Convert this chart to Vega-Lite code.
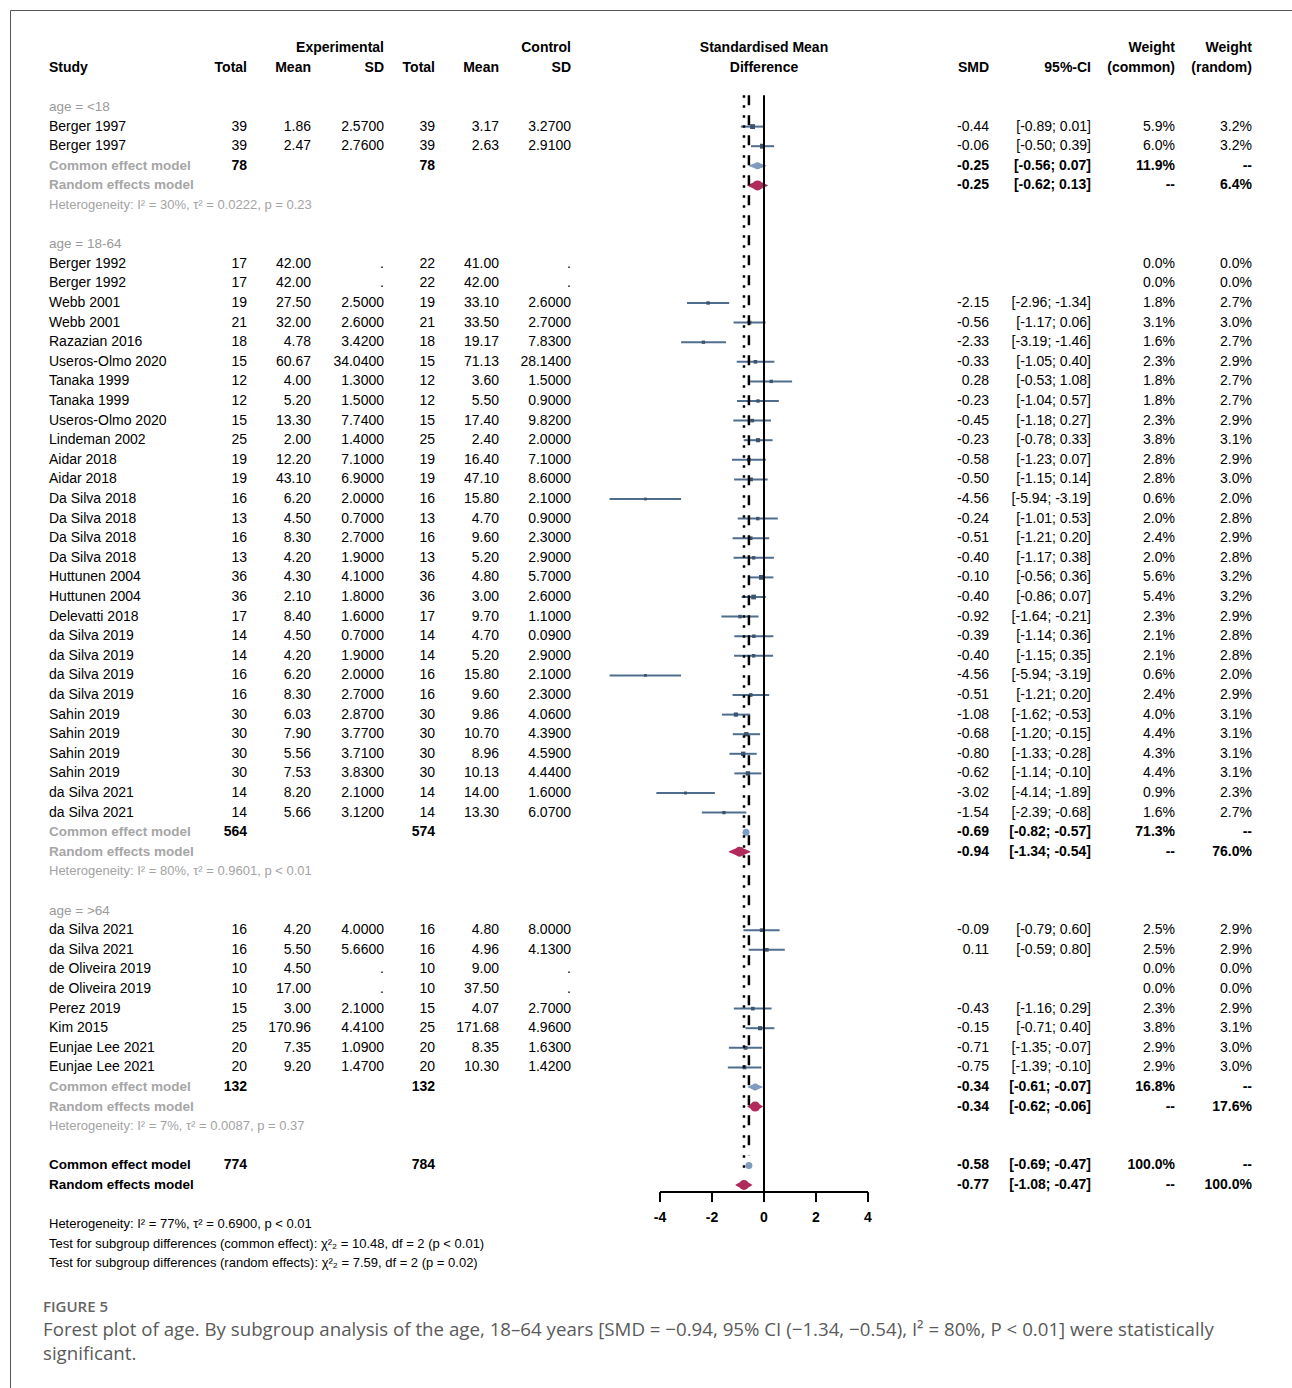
{
  "$schema": "https://vega.github.io/schema/vega-lite/v6.json",
  "width": 1292,
  "height": 1388,
  "autosize": {"type": "fit", "contains": "padding"},
  "padding": {"left": 10, "top": 10, "right": 0, "bottom": 0},
  "background": "white",
  "config": {
    "view": {"stroke": "#555", "strokeWidth": 1},
    "axis": {"disable": true},
    "legend": {"disable": true},
    "text": {"font": "Liberation Sans", "fontSize": 14, "baseline": "middle", "align": "right", "color": "#000"}
  },
  "data": {"values": [
      {"row": -3, "kind": "header", "e_sd": "Experimental", "c_sd": "Control", "plot": "Standardised Mean", "wc": "Weight", "wr": "Weight"},
      {"row": -2, "kind": "header", "label": "Study", "e_n": "Total", "e_mean": "Mean", "e_sd": "SD", "c_n": "Total", "c_mean": "Mean", "c_sd": "SD", "plot": "Difference", "smd_t": "SMD", "ci_t": "95%-CI", "wc": "(common)", "wr": "(random)"},
      {"row": 0, "kind": "group", "label": "age = <18"},
      {"row": 1, "kind": "study", "label": "Berger 1997", "e_n": "39", "e_mean": "1.86", "e_sd": "2.5700", "c_n": "39", "c_mean": "3.17", "c_sd": "3.2700", "smd_t": "-0.44", "ci_t": "[-0.89; 0.01]", "wc": "5.9%", "wr": "3.2%", "est": -0.44, "lo": -0.89, "hi": 0.01, "w": 5.9},
      {"row": 2, "kind": "study", "label": "Berger 1997", "e_n": "39", "e_mean": "2.47", "e_sd": "2.7600", "c_n": "39", "c_mean": "2.63", "c_sd": "2.9100", "smd_t": "-0.06", "ci_t": "[-0.50; 0.39]", "wc": "6.0%", "wr": "3.2%", "est": -0.06, "lo": -0.50, "hi": 0.39, "w": 6.0},
      {"row": 3, "kind": "common", "label": "Common effect model", "e_n": "78", "c_n": "78", "smd_t": "-0.25", "ci_t": "[-0.56; 0.07]", "wc": "11.9%", "wr": "--", "est": -0.25, "lo": -0.56, "hi": 0.07},
      {"row": 4, "kind": "random", "label": "Random effects model", "smd_t": "-0.25", "ci_t": "[-0.62; 0.13]", "wc": "--", "wr": "6.4%", "est": -0.25, "lo": -0.62, "hi": 0.13},
      {"row": 5, "kind": "het", "label": "Heterogeneity: I² = 30%, τ² = 0.0222, p = 0.23"},
      {"row": 7, "kind": "group", "label": "age = 18-64"},
      {"row": 8, "kind": "study", "label": "Berger 1992", "e_n": "17", "e_mean": "42.00", "e_sd": ".", "c_n": "22", "c_mean": "41.00", "c_sd": ".", "wc": "0.0%", "wr": "0.0%"},
      {"row": 9, "kind": "study", "label": "Berger 1992", "e_n": "17", "e_mean": "42.00", "e_sd": ".", "c_n": "22", "c_mean": "42.00", "c_sd": ".", "wc": "0.0%", "wr": "0.0%"},
      {"row": 10, "kind": "study", "label": "Webb 2001", "e_n": "19", "e_mean": "27.50", "e_sd": "2.5000", "c_n": "19", "c_mean": "33.10", "c_sd": "2.6000", "smd_t": "-2.15", "ci_t": "[-2.96; -1.34]", "wc": "1.8%", "wr": "2.7%", "est": -2.15, "lo": -2.96, "hi": -1.34, "w": 1.8},
      {"row": 11, "kind": "study", "label": "Webb 2001", "e_n": "21", "e_mean": "32.00", "e_sd": "2.6000", "c_n": "21", "c_mean": "33.50", "c_sd": "2.7000", "smd_t": "-0.56", "ci_t": "[-1.17; 0.06]", "wc": "3.1%", "wr": "3.0%", "est": -0.56, "lo": -1.17, "hi": 0.06, "w": 3.1},
      {"row": 12, "kind": "study", "label": "Razazian 2016", "e_n": "18", "e_mean": "4.78", "e_sd": "3.4200", "c_n": "18", "c_mean": "19.17", "c_sd": "7.8300", "smd_t": "-2.33", "ci_t": "[-3.19; -1.46]", "wc": "1.6%", "wr": "2.7%", "est": -2.33, "lo": -3.19, "hi": -1.46, "w": 1.6},
      {"row": 13, "kind": "study", "label": "Useros-Olmo 2020", "e_n": "15", "e_mean": "60.67", "e_sd": "34.0400", "c_n": "15", "c_mean": "71.13", "c_sd": "28.1400", "smd_t": "-0.33", "ci_t": "[-1.05; 0.40]", "wc": "2.3%", "wr": "2.9%", "est": -0.33, "lo": -1.05, "hi": 0.40, "w": 2.3},
      {"row": 14, "kind": "study", "label": "Tanaka 1999", "e_n": "12", "e_mean": "4.00", "e_sd": "1.3000", "c_n": "12", "c_mean": "3.60", "c_sd": "1.5000", "smd_t": "0.28", "ci_t": "[-0.53; 1.08]", "wc": "1.8%", "wr": "2.7%", "est": 0.28, "lo": -0.53, "hi": 1.08, "w": 1.8},
      {"row": 15, "kind": "study", "label": "Tanaka 1999", "e_n": "12", "e_mean": "5.20", "e_sd": "1.5000", "c_n": "12", "c_mean": "5.50", "c_sd": "0.9000", "smd_t": "-0.23", "ci_t": "[-1.04; 0.57]", "wc": "1.8%", "wr": "2.7%", "est": -0.23, "lo": -1.04, "hi": 0.57, "w": 1.8},
      {"row": 16, "kind": "study", "label": "Useros-Olmo 2020", "e_n": "15", "e_mean": "13.30", "e_sd": "7.7400", "c_n": "15", "c_mean": "17.40", "c_sd": "9.8200", "smd_t": "-0.45", "ci_t": "[-1.18; 0.27]", "wc": "2.3%", "wr": "2.9%", "est": -0.45, "lo": -1.18, "hi": 0.27, "w": 2.3},
      {"row": 17, "kind": "study", "label": "Lindeman 2002", "e_n": "25", "e_mean": "2.00", "e_sd": "1.4000", "c_n": "25", "c_mean": "2.40", "c_sd": "2.0000", "smd_t": "-0.23", "ci_t": "[-0.78; 0.33]", "wc": "3.8%", "wr": "3.1%", "est": -0.23, "lo": -0.78, "hi": 0.33, "w": 3.8},
      {"row": 18, "kind": "study", "label": "Aidar 2018", "e_n": "19", "e_mean": "12.20", "e_sd": "7.1000", "c_n": "19", "c_mean": "16.40", "c_sd": "7.1000", "smd_t": "-0.58", "ci_t": "[-1.23; 0.07]", "wc": "2.8%", "wr": "2.9%", "est": -0.58, "lo": -1.23, "hi": 0.07, "w": 2.8},
      {"row": 19, "kind": "study", "label": "Aidar 2018", "e_n": "19", "e_mean": "43.10", "e_sd": "6.9000", "c_n": "19", "c_mean": "47.10", "c_sd": "8.6000", "smd_t": "-0.50", "ci_t": "[-1.15; 0.14]", "wc": "2.8%", "wr": "3.0%", "est": -0.50, "lo": -1.15, "hi": 0.14, "w": 2.8},
      {"row": 20, "kind": "study", "label": "Da Silva 2018", "e_n": "16", "e_mean": "6.20", "e_sd": "2.0000", "c_n": "16", "c_mean": "15.80", "c_sd": "2.1000", "smd_t": "-4.56", "ci_t": "[-5.94; -3.19]", "wc": "0.6%", "wr": "2.0%", "est": -4.56, "lo": -5.94, "hi": -3.19, "w": 0.6},
      {"row": 21, "kind": "study", "label": "Da Silva 2018", "e_n": "13", "e_mean": "4.50", "e_sd": "0.7000", "c_n": "13", "c_mean": "4.70", "c_sd": "0.9000", "smd_t": "-0.24", "ci_t": "[-1.01; 0.53]", "wc": "2.0%", "wr": "2.8%", "est": -0.24, "lo": -1.01, "hi": 0.53, "w": 2.0},
      {"row": 22, "kind": "study", "label": "Da Silva 2018", "e_n": "16", "e_mean": "8.30", "e_sd": "2.7000", "c_n": "16", "c_mean": "9.60", "c_sd": "2.3000", "smd_t": "-0.51", "ci_t": "[-1.21; 0.20]", "wc": "2.4%", "wr": "2.9%", "est": -0.51, "lo": -1.21, "hi": 0.20, "w": 2.4},
      {"row": 23, "kind": "study", "label": "Da Silva 2018", "e_n": "13", "e_mean": "4.20", "e_sd": "1.9000", "c_n": "13", "c_mean": "5.20", "c_sd": "2.9000", "smd_t": "-0.40", "ci_t": "[-1.17; 0.38]", "wc": "2.0%", "wr": "2.8%", "est": -0.40, "lo": -1.17, "hi": 0.38, "w": 2.0},
      {"row": 24, "kind": "study", "label": "Huttunen 2004", "e_n": "36", "e_mean": "4.30", "e_sd": "4.1000", "c_n": "36", "c_mean": "4.80", "c_sd": "5.7000", "smd_t": "-0.10", "ci_t": "[-0.56; 0.36]", "wc": "5.6%", "wr": "3.2%", "est": -0.10, "lo": -0.56, "hi": 0.36, "w": 5.6},
      {"row": 25, "kind": "study", "label": "Huttunen 2004", "e_n": "36", "e_mean": "2.10", "e_sd": "1.8000", "c_n": "36", "c_mean": "3.00", "c_sd": "2.6000", "smd_t": "-0.40", "ci_t": "[-0.86; 0.07]", "wc": "5.4%", "wr": "3.2%", "est": -0.40, "lo": -0.86, "hi": 0.07, "w": 5.4},
      {"row": 26, "kind": "study", "label": "Delevatti 2018", "e_n": "17", "e_mean": "8.40", "e_sd": "1.6000", "c_n": "17", "c_mean": "9.70", "c_sd": "1.1000", "smd_t": "-0.92", "ci_t": "[-1.64; -0.21]", "wc": "2.3%", "wr": "2.9%", "est": -0.92, "lo": -1.64, "hi": -0.21, "w": 2.3},
      {"row": 27, "kind": "study", "label": "da Silva 2019", "e_n": "14", "e_mean": "4.50", "e_sd": "0.7000", "c_n": "14", "c_mean": "4.70", "c_sd": "0.0900", "smd_t": "-0.39", "ci_t": "[-1.14; 0.36]", "wc": "2.1%", "wr": "2.8%", "est": -0.39, "lo": -1.14, "hi": 0.36, "w": 2.1},
      {"row": 28, "kind": "study", "label": "da Silva 2019", "e_n": "14", "e_mean": "4.20", "e_sd": "1.9000", "c_n": "14", "c_mean": "5.20", "c_sd": "2.9000", "smd_t": "-0.40", "ci_t": "[-1.15; 0.35]", "wc": "2.1%", "wr": "2.8%", "est": -0.40, "lo": -1.15, "hi": 0.35, "w": 2.1},
      {"row": 29, "kind": "study", "label": "da Silva 2019", "e_n": "16", "e_mean": "6.20", "e_sd": "2.0000", "c_n": "16", "c_mean": "15.80", "c_sd": "2.1000", "smd_t": "-4.56", "ci_t": "[-5.94; -3.19]", "wc": "0.6%", "wr": "2.0%", "est": -4.56, "lo": -5.94, "hi": -3.19, "w": 0.6},
      {"row": 30, "kind": "study", "label": "da Silva 2019", "e_n": "16", "e_mean": "8.30", "e_sd": "2.7000", "c_n": "16", "c_mean": "9.60", "c_sd": "2.3000", "smd_t": "-0.51", "ci_t": "[-1.21; 0.20]", "wc": "2.4%", "wr": "2.9%", "est": -0.51, "lo": -1.21, "hi": 0.20, "w": 2.4},
      {"row": 31, "kind": "study", "label": "Sahin 2019", "e_n": "30", "e_mean": "6.03", "e_sd": "2.8700", "c_n": "30", "c_mean": "9.86", "c_sd": "4.0600", "smd_t": "-1.08", "ci_t": "[-1.62; -0.53]", "wc": "4.0%", "wr": "3.1%", "est": -1.08, "lo": -1.62, "hi": -0.53, "w": 4.0},
      {"row": 32, "kind": "study", "label": "Sahin 2019", "e_n": "30", "e_mean": "7.90", "e_sd": "3.7700", "c_n": "30", "c_mean": "10.70", "c_sd": "4.3900", "smd_t": "-0.68", "ci_t": "[-1.20; -0.15]", "wc": "4.4%", "wr": "3.1%", "est": -0.68, "lo": -1.20, "hi": -0.15, "w": 4.4},
      {"row": 33, "kind": "study", "label": "Sahin 2019", "e_n": "30", "e_mean": "5.56", "e_sd": "3.7100", "c_n": "30", "c_mean": "8.96", "c_sd": "4.5900", "smd_t": "-0.80", "ci_t": "[-1.33; -0.28]", "wc": "4.3%", "wr": "3.1%", "est": -0.80, "lo": -1.33, "hi": -0.28, "w": 4.3},
      {"row": 34, "kind": "study", "label": "Sahin 2019", "e_n": "30", "e_mean": "7.53", "e_sd": "3.8300", "c_n": "30", "c_mean": "10.13", "c_sd": "4.4400", "smd_t": "-0.62", "ci_t": "[-1.14; -0.10]", "wc": "4.4%", "wr": "3.1%", "est": -0.62, "lo": -1.14, "hi": -0.10, "w": 4.4},
      {"row": 35, "kind": "study", "label": "da Silva 2021", "e_n": "14", "e_mean": "8.20", "e_sd": "2.1000", "c_n": "14", "c_mean": "14.00", "c_sd": "1.6000", "smd_t": "-3.02", "ci_t": "[-4.14; -1.89]", "wc": "0.9%", "wr": "2.3%", "est": -3.02, "lo": -4.14, "hi": -1.89, "w": 0.9},
      {"row": 36, "kind": "study", "label": "da Silva 2021", "e_n": "14", "e_mean": "5.66", "e_sd": "3.1200", "c_n": "14", "c_mean": "13.30", "c_sd": "6.0700", "smd_t": "-1.54", "ci_t": "[-2.39; -0.68]", "wc": "1.6%", "wr": "2.7%", "est": -1.54, "lo": -2.39, "hi": -0.68, "w": 1.6},
      {"row": 37, "kind": "common", "label": "Common effect model", "e_n": "564", "c_n": "574", "smd_t": "-0.69", "ci_t": "[-0.82; -0.57]", "wc": "71.3%", "wr": "--", "est": -0.69, "lo": -0.82, "hi": -0.57},
      {"row": 38, "kind": "random", "label": "Random effects model", "smd_t": "-0.94", "ci_t": "[-1.34; -0.54]", "wc": "--", "wr": "76.0%", "est": -0.94, "lo": -1.34, "hi": -0.54},
      {"row": 39, "kind": "het", "label": "Heterogeneity: I² = 80%, τ² = 0.9601, p < 0.01"},
      {"row": 41, "kind": "group", "label": "age = >64"},
      {"row": 42, "kind": "study", "label": "da Silva 2021", "e_n": "16", "e_mean": "4.20", "e_sd": "4.0000", "c_n": "16", "c_mean": "4.80", "c_sd": "8.0000", "smd_t": "-0.09", "ci_t": "[-0.79; 0.60]", "wc": "2.5%", "wr": "2.9%", "est": -0.09, "lo": -0.79, "hi": 0.60, "w": 2.5},
      {"row": 43, "kind": "study", "label": "da Silva 2021", "e_n": "16", "e_mean": "5.50", "e_sd": "5.6600", "c_n": "16", "c_mean": "4.96", "c_sd": "4.1300", "smd_t": "0.11", "ci_t": "[-0.59; 0.80]", "wc": "2.5%", "wr": "2.9%", "est": 0.11, "lo": -0.59, "hi": 0.80, "w": 2.5},
      {"row": 44, "kind": "study", "label": "de Oliveira 2019", "e_n": "10", "e_mean": "4.50", "e_sd": ".", "c_n": "10", "c_mean": "9.00", "c_sd": ".", "wc": "0.0%", "wr": "0.0%"},
      {"row": 45, "kind": "study", "label": "de Oliveira 2019", "e_n": "10", "e_mean": "17.00", "e_sd": ".", "c_n": "10", "c_mean": "37.50", "c_sd": ".", "wc": "0.0%", "wr": "0.0%"},
      {"row": 46, "kind": "study", "label": "Perez 2019", "e_n": "15", "e_mean": "3.00", "e_sd": "2.1000", "c_n": "15", "c_mean": "4.07", "c_sd": "2.7000", "smd_t": "-0.43", "ci_t": "[-1.16; 0.29]", "wc": "2.3%", "wr": "2.9%", "est": -0.43, "lo": -1.16, "hi": 0.29, "w": 2.3},
      {"row": 47, "kind": "study", "label": "Kim 2015", "e_n": "25", "e_mean": "170.96", "e_sd": "4.4100", "c_n": "25", "c_mean": "171.68", "c_sd": "4.9600", "smd_t": "-0.15", "ci_t": "[-0.71; 0.40]", "wc": "3.8%", "wr": "3.1%", "est": -0.15, "lo": -0.71, "hi": 0.40, "w": 3.8},
      {"row": 48, "kind": "study", "label": "Eunjae Lee 2021", "e_n": "20", "e_mean": "7.35", "e_sd": "1.0900", "c_n": "20", "c_mean": "8.35", "c_sd": "1.6300", "smd_t": "-0.71", "ci_t": "[-1.35; -0.07]", "wc": "2.9%", "wr": "3.0%", "est": -0.71, "lo": -1.35, "hi": -0.07, "w": 2.9},
      {"row": 49, "kind": "study", "label": "Eunjae Lee 2021", "e_n": "20", "e_mean": "9.20", "e_sd": "1.4700", "c_n": "20", "c_mean": "10.30", "c_sd": "1.4200", "smd_t": "-0.75", "ci_t": "[-1.39; -0.10]", "wc": "2.9%", "wr": "3.0%", "est": -0.75, "lo": -1.39, "hi": -0.10, "w": 2.9},
      {"row": 50, "kind": "common", "label": "Common effect model", "e_n": "132", "c_n": "132", "smd_t": "-0.34", "ci_t": "[-0.61; -0.07]", "wc": "16.8%", "wr": "--", "est": -0.34, "lo": -0.61, "hi": -0.07},
      {"row": 51, "kind": "random", "label": "Random effects model", "smd_t": "-0.34", "ci_t": "[-0.62; -0.06]", "wc": "--", "wr": "17.6%", "est": -0.34, "lo": -0.62, "hi": -0.06},
      {"row": 52, "kind": "het", "label": "Heterogeneity: I² = 7%, τ² = 0.0087, p = 0.37"},
      {"row": 54, "kind": "ocommon", "label": "Common effect model", "e_n": "774", "c_n": "784", "smd_t": "-0.58", "ci_t": "[-0.69; -0.47]", "wc": "100.0%", "wr": "--", "est": -0.58, "lo": -0.69, "hi": -0.47},
      {"row": 55, "kind": "orandom", "label": "Random effects model", "smd_t": "-0.77", "ci_t": "[-1.08; -0.47]", "wc": "--", "wr": "100.0%", "est": -0.77, "lo": -1.08, "hi": -0.47},
      {"row": 57, "kind": "ohet", "label": "Heterogeneity: I² = 77%, τ² = 0.6900, p < 0.01"},
      {"row": 58, "kind": "test", "label": "Test for subgroup differences (common effect): χ²₂ = 10.48, df = 2 (p < 0.01)"},
      {"row": 59, "kind": "test", "label": "Test for subgroup differences (random effects): χ²₂ = 7.59, df = 2 (p = 0.02)"},
      {"row": 56, "kind": "tick", "v": -4, "t": "-4"},
      {"row": 56, "kind": "tick", "v": -2, "t": "-2"},
      {"row": 56, "kind": "tick", "v": 0, "t": "0"},
      {"row": 56, "kind": "tick", "v": 2, "t": "2"},
      {"row": 56, "kind": "tick", "v": 4, "t": "4"},
      {"row": 61, "kind": "caption", "part": "title", "text": "FIGURE 5"},
      {"row": 62, "kind": "caption", "part": "line1", "text": "Forest plot of age. By subgroup analysis of the age, 18–64 years [SMD = −0.94, 95% CI (−1.34, −0.54), I² = 80%, P < 0.01] were statistically"},
      {"row": 63, "kind": "caption", "part": "line2", "text": "significant."}
  ]},
  "encoding": {
    "y": {"field": "row", "type": "quantitative", "scale": {"domain": [-4.949, 65.357], "reverse": true, "nice": false, "zero": false}, "axis": null}
  },
  "layer": [
    {
      "transform": [{"filter": "datum.kind == 'study' && isValid(datum.est)"}],
      "mark": {"type": "rule", "color": "#4f6e8e", "strokeWidth": 2},
      "encoding": {
        "x": {"field": "lo", "type": "quantitative", "scale": {"domain": [-29, 20.3077], "nice": false, "zero": false}, "axis": null},
        "x2": {"field": "hi"}
      }
    },
    {
      "transform": [{"filter": "datum.kind == 'study' && isValid(datum.est)"}],
      "mark": {"type": "point", "shape": "square", "filled": true, "opacity": 1, "color": "#3a5470"},
      "encoding": {
        "x": {"field": "est", "type": "quantitative"},
        "size": {"field": "w", "type": "quantitative", "scale": {"domain": [0, 6], "range": [6, 24]}, "legend": null}
      }
    },
    {
      "transform": [
        {"filter": "datum.kind == 'common' || datum.kind == 'ocommon'"},
        {"fold": ["lo", "est", "hi"], "as": ["k", "xv"]}
      ],
      "mark": {"type": "trail", "color": "#7f9cbf"},
      "encoding": {
        "x": {"field": "xv", "type": "quantitative"},
        "detail": {"field": "row", "type": "nominal"},
        "order": {"field": "xv", "type": "quantitative"},
        "size": {"field": "k", "type": "ordinal", "scale": {"type": "ordinal", "domain": ["lo", "est", "hi"], "range": [0, 7, 0]}, "legend": null}
      }
    },
    {
      "transform": [
        {"filter": "datum.kind == 'random' || datum.kind == 'orandom'"},
        {"fold": ["lo", "est", "hi"], "as": ["k", "xv"]}
      ],
      "mark": {"type": "trail", "color": "#b12a5c"},
      "encoding": {
        "x": {"field": "xv", "type": "quantitative"},
        "detail": {"field": "row", "type": "nominal"},
        "order": {"field": "xv", "type": "quantitative"},
        "size": {"field": "k", "type": "ordinal", "scale": {"type": "ordinal", "domain": ["lo", "est", "hi"], "range": [0, 10, 0]}, "legend": null}
      }
    },
    {
      "transform": [{"filter": "datum.kind == 'tick' && datum.v == 0"}],
      "mark": {"type": "rule", "color": "#000", "strokeWidth": 2},
      "encoding": {"x": {"field": "v", "type": "quantitative"}, "y": {"datum": -0.6}, "y2": {"datum": 55.36}}
    },
    {
      "transform": [{"filter": "datum.kind == 'ocommon'"}],
      "mark": {"type": "rule", "color": "#000", "strokeWidth": 2.5, "strokeDash": [10, 10]},
      "encoding": {"x": {"field": "est", "type": "quantitative"}, "y": {"datum": -0.6}, "y2": {"datum": 53.5}}
    },
    {
      "transform": [{"filter": "datum.kind == 'orandom'"}],
      "mark": {"type": "rule", "color": "#000", "strokeWidth": 2.5, "strokeDash": [2.5, 7.5]},
      "encoding": {"x": {"field": "est", "type": "quantitative"}, "y": {"datum": -0.6}, "y2": {"datum": 54.5}}
    },
    {
      "transform": [{"filter": "datum.kind == 'tick'"}],
      "mark": {"type": "rule", "color": "#000", "strokeWidth": 2},
      "encoding": {"x": {"aggregate": "min", "field": "v", "type": "quantitative"}, "x2": {"aggregate": "max", "field": "v"}, "y": {"datum": 55.36}}
    },
    {
      "transform": [{"filter": "datum.kind == 'tick'"}],
      "mark": {"type": "rule", "color": "#000", "strokeWidth": 2},
      "encoding": {"x": {"field": "v", "type": "quantitative"}, "y": {"datum": 55.36}, "y2": {"datum": 55.87}}
    },
    {
      "transform": [{"filter": "datum.kind == 'tick'"}],
      "mark": {"type": "text", "align": "center", "fontWeight": "bold", "fontSize": 14},
      "encoding": {"x": {"field": "v", "type": "quantitative"}, "y": {"datum": 56.7}, "text": {"field": "t", "type": "nominal"}}
    },
    {
      "transform": [{"filter": "isValid(datum.label)"}],
      "encoding": {"x": {"datum": -27.5}, "text": {"field": "label", "type": "nominal"}},
      "layer": [
        {"transform": [{"filter": "datum.kind == 'study'"}], "mark": {"type": "text", "align": "left"}},
        {"transform": [{"filter": "datum.kind == 'group'"}], "mark": {"type": "text", "align": "left", "color": "#9a9a9a", "fontSize": 13.5}},
        {"transform": [{"filter": "datum.kind == 'common' || datum.kind == 'random'"}], "mark": {"type": "text", "align": "left", "color": "#a6a6a6", "fontWeight": "bold", "fontSize": 13.5}},
        {"transform": [{"filter": "datum.kind == 'het'"}], "mark": {"type": "text", "align": "left", "color": "#a3a3a3", "fontSize": 13}},
        {"transform": [{"filter": "datum.kind == 'header'"}], "mark": {"type": "text", "align": "left", "fontWeight": "bold", "fontSize": 14}},
        {"transform": [{"filter": "datum.kind == 'ocommon' || datum.kind == 'orandom'"}], "mark": {"type": "text", "align": "left", "fontWeight": "bold", "fontSize": 13.5}},
        {"transform": [{"filter": "datum.kind == 'ohet' || datum.kind == 'test'"}], "mark": {"type": "text", "align": "left", "fontSize": 13}}
      ]
    },
    {
      "transform": [{"filter": "isValid(datum.e_n)"}],
      "encoding": {"x": {"datum": -19.885}, "text": {"field": "e_n", "type": "nominal"}},
      "layer": [
        {"transform": [{"filter": "datum.kind == 'study'"}], "mark": {"type": "text"}},
        {"transform": [{"filter": "datum.kind != 'study'"}], "mark": {"type": "text", "fontWeight": "bold"}}
      ]
    },
    {
      "transform": [{"filter": "isValid(datum.e_mean)"}],
      "encoding": {"x": {"datum": -17.423}, "text": {"field": "e_mean", "type": "nominal"}},
      "layer": [
        {"transform": [{"filter": "datum.kind == 'study'"}], "mark": {"type": "text"}},
        {"transform": [{"filter": "datum.kind != 'study'"}], "mark": {"type": "text", "fontWeight": "bold"}}
      ]
    },
    {
      "transform": [{"filter": "isValid(datum.e_sd)"}],
      "encoding": {"x": {"datum": -14.615}, "text": {"field": "e_sd", "type": "nominal"}},
      "layer": [
        {"transform": [{"filter": "datum.kind == 'study'"}], "mark": {"type": "text"}},
        {"transform": [{"filter": "datum.kind != 'study'"}], "mark": {"type": "text", "fontWeight": "bold"}}
      ]
    },
    {
      "transform": [{"filter": "isValid(datum.c_n)"}],
      "encoding": {"x": {"datum": -12.654}, "text": {"field": "c_n", "type": "nominal"}},
      "layer": [
        {"transform": [{"filter": "datum.kind == 'study'"}], "mark": {"type": "text"}},
        {"transform": [{"filter": "datum.kind != 'study'"}], "mark": {"type": "text", "fontWeight": "bold"}}
      ]
    },
    {
      "transform": [{"filter": "isValid(datum.c_mean)"}],
      "encoding": {"x": {"datum": -10.192}, "text": {"field": "c_mean", "type": "nominal"}},
      "layer": [
        {"transform": [{"filter": "datum.kind == 'study'"}], "mark": {"type": "text"}},
        {"transform": [{"filter": "datum.kind != 'study'"}], "mark": {"type": "text", "fontWeight": "bold"}}
      ]
    },
    {
      "transform": [{"filter": "isValid(datum.c_sd)"}],
      "encoding": {"x": {"datum": -7.423}, "text": {"field": "c_sd", "type": "nominal"}},
      "layer": [
        {"transform": [{"filter": "datum.kind == 'study'"}], "mark": {"type": "text"}},
        {"transform": [{"filter": "datum.kind != 'study'"}], "mark": {"type": "text", "fontWeight": "bold"}}
      ]
    },
    {
      "transform": [{"filter": "isValid(datum.plot)"}],
      "mark": {"type": "text", "align": "center", "fontWeight": "bold", "fontSize": 14},
      "encoding": {"x": {"datum": 0}, "text": {"field": "plot", "type": "nominal"}}
    },
    {
      "transform": [{"filter": "isValid(datum.smd_t)"}],
      "encoding": {"x": {"datum": 8.654}, "text": {"field": "smd_t", "type": "nominal"}},
      "layer": [
        {"transform": [{"filter": "datum.kind == 'study'"}], "mark": {"type": "text"}},
        {"transform": [{"filter": "datum.kind != 'study'"}], "mark": {"type": "text", "fontWeight": "bold"}}
      ]
    },
    {
      "transform": [{"filter": "isValid(datum.ci_t)"}],
      "encoding": {"x": {"datum": 12.577}, "text": {"field": "ci_t", "type": "nominal"}},
      "layer": [
        {"transform": [{"filter": "datum.kind == 'study'"}], "mark": {"type": "text"}},
        {"transform": [{"filter": "datum.kind != 'study'"}], "mark": {"type": "text", "fontWeight": "bold"}}
      ]
    },
    {
      "transform": [{"filter": "isValid(datum.wc)"}],
      "encoding": {"x": {"datum": 15.808}, "text": {"field": "wc", "type": "nominal"}},
      "layer": [
        {"transform": [{"filter": "datum.kind == 'study'"}], "mark": {"type": "text"}},
        {"transform": [{"filter": "datum.kind != 'study'"}], "mark": {"type": "text", "fontWeight": "bold"}}
      ]
    },
    {
      "transform": [{"filter": "isValid(datum.wr)"}],
      "encoding": {"x": {"datum": 18.769}, "text": {"field": "wr", "type": "nominal"}},
      "layer": [
        {"transform": [{"filter": "datum.kind == 'study'"}], "mark": {"type": "text"}},
        {"transform": [{"filter": "datum.kind != 'study'"}], "mark": {"type": "text", "fontWeight": "bold"}}
      ]
    },
    {
      "transform": [{"filter": "datum.kind == 'caption' && datum.part == 'title'"}],
      "mark": {"type": "text", "align": "left", "font": "Open Sans", "fontSize": 15, "fontWeight": 600, "color": "#666"},
      "encoding": {"x": {"datum": -27.731}, "y": {"datum": 61.22}, "text": {"field": "text", "type": "nominal"}}
    },
    {
      "transform": [{"filter": "datum.kind == 'caption' && datum.part == 'line1'"}],
      "mark": {"type": "text", "align": "left", "font": "Open Sans", "fontSize": 18.7, "color": "#5a5a5a"},
      "encoding": {"x": {"datum": -27.731}, "y": {"datum": 62.4}, "text": {"field": "text", "type": "nominal"}}
    },
    {
      "transform": [{"filter": "datum.kind == 'caption' && datum.part == 'line2'"}],
      "mark": {"type": "text", "align": "left", "font": "Open Sans", "fontSize": 18.7, "color": "#5a5a5a"},
      "encoding": {"x": {"datum": -27.731}, "y": {"datum": 63.62}, "text": {"field": "text", "type": "nominal"}}
    }
  ],
  "resolve": {"scale": {"size": "independent"}}
}
